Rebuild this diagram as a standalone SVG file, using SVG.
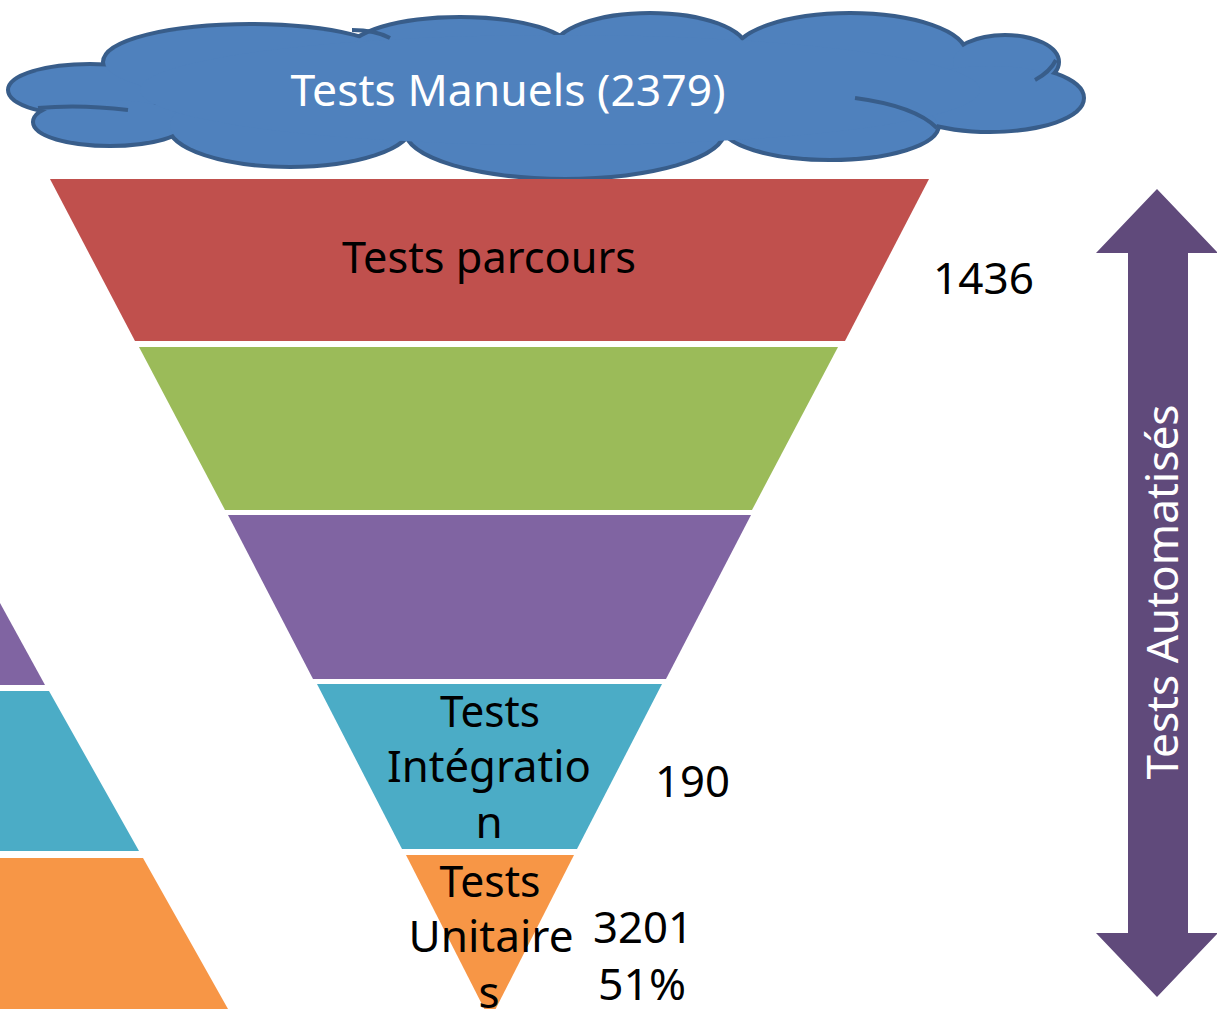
<svg xmlns="http://www.w3.org/2000/svg" width="1217" height="1009" viewBox="0 0 1217 1009">
<style>
.t{font-family:"Noto Sans","Open Sans","Liberation Sans",sans-serif;font-size:44px;fill:#000}
.w{fill:#fff}
.c{text-anchor:middle}
.cl{fill:#4F81BD}
.cs{fill:#385D8A;stroke:#385D8A;stroke-width:8}
.cr{fill:none;stroke:#385D8A;stroke-width:4}
</style>
<rect width="1217" height="1009" fill="#fff"/>
<g id="left-pyramid">
<polygon points="0,603 45,685 0,685" fill="#8064A2"/>
<polygon points="0,691 49,691 139,851 0,851" fill="#4BACC6"/>
<polygon points="0,858 143,858 228,1009 0,1009" fill="#F79646"/>
</g>
<g id="cloud">
<g class="cs">
<ellipse cx="90" cy="90" rx="80" ry="24"/>
<ellipse cx="110" cy="122" rx="75" ry="22"/>
<ellipse cx="250" cy="62" rx="145" ry="36"/>
<ellipse cx="460" cy="52" rx="110" ry="33"/>
<ellipse cx="650" cy="50" rx="95" ry="35"/>
<ellipse cx="850" cy="55" rx="115" ry="40"/>
<ellipse cx="1005" cy="62" rx="52" ry="25"/>
<ellipse cx="990" cy="98" rx="92" ry="32"/>
<ellipse cx="830" cy="125" rx="107" ry="33"/>
<ellipse cx="565" cy="130" rx="158" ry="47"/>
<ellipse cx="290" cy="125" rx="120" ry="40"/>
</g>
<g class="cl">
<ellipse cx="90" cy="90" rx="80" ry="24"/>
<ellipse cx="110" cy="122" rx="75" ry="22"/>
<ellipse cx="250" cy="62" rx="145" ry="36"/>
<ellipse cx="460" cy="52" rx="110" ry="33"/>
<ellipse cx="650" cy="50" rx="95" ry="35"/>
<ellipse cx="850" cy="55" rx="115" ry="40"/>
<ellipse cx="1005" cy="62" rx="52" ry="25"/>
<ellipse cx="990" cy="98" rx="92" ry="32"/>
<ellipse cx="830" cy="125" rx="107" ry="33"/>
<ellipse cx="565" cy="130" rx="158" ry="47"/>
<ellipse cx="290" cy="125" rx="120" ry="40"/>
<ellipse cx="560" cy="90" rx="420" ry="55"/>
</g>
<path class="cr" d="M38 108 Q80 104 128 110"/>
<path class="cr" d="M855 98 Q915 106 937 128"/>
<path class="cr" d="M1035 80 Q1050 72 1056 60"/>
<path class="cr" d="M352 30 Q375 30 390 38"/>
<text class="t w c" x="508" y="106" textLength="435" lengthAdjust="spacingAndGlyphs">Tests Manuels (2379)</text>
</g>
<g id="band-parcours">
<polygon points="50,179 929,179 845,341 135,341" fill="#C0504D"/>
<text class="t c" x="489" y="273" textLength="294" lengthAdjust="spacingAndGlyphs">Tests parcours</text>
</g>
<g id="band-green">
<polygon points="139,347 838,347 752,510 225,510" fill="#9BBB59"/>
</g>
<g id="band-purple">
<polygon points="228,515 751,515 666,679 313,679" fill="#8064A2"/>
</g>
<g id="band-integration">
<polygon points="317,684 662,684 577,849 402,849" fill="#4BACC6"/>
<text class="t c" x="490" y="727" textLength="100" lengthAdjust="spacingAndGlyphs">Tests</text>
<text class="t c" x="489" y="782" textLength="204" lengthAdjust="spacingAndGlyphs">Intégratio</text>
<text class="t c" x="489" y="838">n</text>
</g>
<g id="band-unitaires">
<polygon points="406,855 574,855 490,1020" fill="#F79646"/>
<text class="t c" x="490" y="897" textLength="101" lengthAdjust="spacingAndGlyphs">Tests</text>
<text class="t c" x="491" y="952" textLength="165" lengthAdjust="spacingAndGlyphs">Unitaire</text>
<text class="t c" x="489" y="1008">s</text>
</g>
<g id="labels">
<text class="t" x="933" y="294" textLength="101" lengthAdjust="spacingAndGlyphs">1436</text>
<text class="t" x="655" y="797" textLength="75" lengthAdjust="spacingAndGlyphs">190</text>
<text class="t" x="593" y="943" textLength="100" lengthAdjust="spacingAndGlyphs">3201</text>
<text class="t" x="598" y="1000" textLength="88" lengthAdjust="spacingAndGlyphs">51%</text>
</g>
<g id="arrow-automatises">
<polygon points="1157,189 1218,253 1188,253 1188,933 1218,933 1157,997 1096,933 1128,933 1128,253 1096,253" fill="#604A7B"/>
<text class="t w c" transform="translate(1178,592) rotate(-90)" textLength="375" lengthAdjust="spacingAndGlyphs">Tests Automatisés</text>
</g>
<g id="connectors"/>
</svg>
